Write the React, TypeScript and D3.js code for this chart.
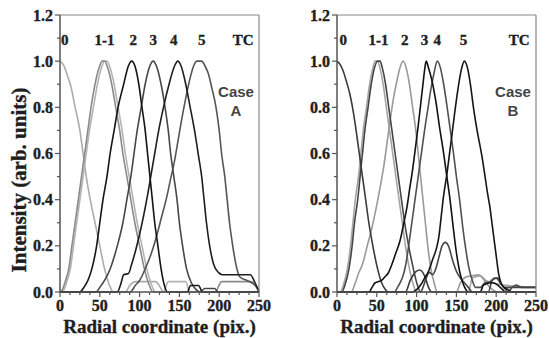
import React from "react";
import * as d3 from "d3";

type P = [number, number];

const xTicks = [0, 50, 100, 150, 200, 250];
const yTicks = [0, 0.2, 0.4, 0.6, 0.8, 1.0, 1.2];
const peakLabels = ["0", "1-1", "2", "3", "4", "5", "TC"];
const peakPosA = [6, 56, 92, 117, 143, 178, 230];
const peakPosB = [8, 52, 85, 110, 126, 159, 229];

// Case A
const a0: P[] = [[0,1],[5,0.98],[10,0.93],[13,0.9],[19,0.8],[25,0.7],[29,0.6],[33,0.5],[38,0.4],[44,0.3],[50,0.2],[56,0.1],[62,0.03],[67,0],[82,0],[88,0.03],[95,0.045],[120,0.045],[126,0.02],[130,0],[250,0]];
const a1a: P[] = [[0,0],[3,0.01],[7,0.05],[11,0.1],[15,0.2],[19,0.3],[23,0.4],[27,0.5],[31,0.6],[35,0.7],[39,0.8],[44,0.9],[49,0.97],[53,1.0],[56,1.0],[60,0.97],[65,0.9],[70,0.8],[75,0.7],[79,0.6],[84,0.5],[89,0.4],[94,0.3],[100,0.2],[106,0.1],[111,0.04],[117,0],[195,0],[203,0.045],[240,0.045],[250,0]];
const a1b: P[] = [[0,0],[5,0.01],[9,0.05],[13,0.1],[17,0.2],[21,0.3],[25,0.4],[29,0.5],[33,0.6],[37,0.7],[42,0.8],[47,0.9],[52,0.97],[56,1.0],[59,1.0],[63,0.97],[68,0.9],[73,0.8],[78,0.7],[82,0.6],[87,0.5],[92,0.4],[97,0.3],[103,0.2],[109,0.1],[114,0.04],[120,0],[130,0],[136,0.045],[158,0.045],[163,0],[250,0]];
const a2: P[] = [[0,0],[25,0],[30,0.02],[35,0.05],[40,0.1],[46,0.2],[50,0.3],[54,0.4],[59,0.5],[63,0.6],[68,0.7],[73,0.8],[80,0.9],[86,0.98],[90,1.0],[94,0.98],[99,0.9],[103,0.8],[107,0.7],[110,0.6],[113,0.5],[116,0.4],[119,0.3],[123,0.2],[127,0.1],[131,0.03],[135,0],[160,0],[164,0.028],[174,0.028],[179,0],[250,0]];
const a3: P[] = [[0,0],[45,0],[50,0.02],[56,0.05],[63,0.1],[72,0.2],[79,0.3],[84,0.4],[89,0.5],[93,0.6],[97,0.7],[102,0.8],[107,0.9],[113,0.98],[117,1.0],[121,0.98],[127,0.9],[132,0.8],[136,0.7],[139,0.6],[143,0.5],[147,0.4],[150,0.3],[154,0.2],[159,0.1],[165,0.04],[171,0.01],[176,0],[182,0.015],[194,0.015],[199,0],[250,0]];
const a4: P[] = [[0,0],[72,0],[76,0.03],[80,0.075],[86,0.08],[90,0.12],[95,0.18],[100,0.25],[105,0.33],[110,0.42],[114,0.5],[119,0.6],[124,0.7],[130,0.8],[137,0.9],[144,0.98],[148,1.0],[152,0.98],[158,0.9],[163,0.81],[169,0.7],[174,0.59],[178,0.5],[181,0.4],[184,0.3],[188,0.2],[193,0.12],[199,0.085],[204,0.075],[239,0.075],[245,0.04],[250,0.0]];
const a5: P[] = [[0,0],[88,0],[95,0.03],[100,0.05],[107,0.1],[115,0.17],[122,0.25],[128,0.33],[134,0.41],[139,0.49],[144,0.57],[149,0.67],[153,0.75],[158,0.84],[163,0.92],[168,0.98],[172,1.0],[178,1.0],[182,0.98],[186,0.95],[191,0.88],[196,0.8],[200,0.7],[203,0.6],[207,0.5],[210,0.4],[213,0.3],[217,0.2],[221,0.12],[226,0.065],[235,0.05],[245,0.03],[250,0.01]];

// Case B
const b0: P[] = [[0,1],[4,0.985],[8,0.955],[12,0.91],[16,0.86],[20,0.79],[24,0.7],[28,0.6],[32,0.5],[36,0.4],[40,0.3],[45,0.2],[51,0.1],[56,0.04],[61,0.01],[64,0],[86,0],[92,0.05],[98,0.085],[104,0.095],[110,0.07],[115,0.02],[119,0],[250,0]];
const b1a: P[] = [[0,0],[4,0],[8,0.03],[13,0.1],[17,0.2],[20,0.3],[23,0.4],[27,0.5],[30,0.6],[33,0.7],[37,0.8],[41,0.9],[45,0.97],[48,1.0],[51,1.0],[54,0.97],[58,0.9],[62,0.8],[66,0.7],[70,0.6],[74,0.5],[78,0.4],[82,0.3],[86,0.2],[91,0.1],[96,0.03],[100,0],[165,0],[170,0.06],[180,0.07],[187,0.05],[195,0.04],[210,0.03],[250,0.02]];
const b1b: P[] = [[0,0],[6,0],[10,0.03],[15,0.1],[19,0.2],[22,0.3],[26,0.4],[29,0.5],[32,0.6],[35,0.7],[39,0.8],[43,0.9],[47,0.97],[51,1.0],[54,1.0],[57,0.97],[61,0.9],[65,0.8],[69,0.7],[73,0.6],[77,0.5],[81,0.4],[85,0.3],[90,0.2],[96,0.1],[101,0.03],[105,0],[108,0.02],[112,0.06],[116,0.085],[120,0.075],[124,0.1],[128,0.15],[132,0.2],[136,0.215],[140,0.2],[145,0.14],[150,0.09],[155,0.06],[160,0.04],[165,0.02],[170,0],[190,0],[195,0.05],[200,0.06],[205,0.04],[210,0.02],[250,0.02]];
const b2: P[] = [[0,0],[18,0],[22,0.03],[27,0.08],[32,0.12],[38,0.2],[44,0.28],[49,0.36],[54,0.45],[59,0.55],[63,0.65],[67,0.75],[71,0.84],[75,0.91],[79,0.97],[83,1.0],[87,0.97],[91,0.9],[95,0.8],[99,0.7],[102,0.6],[105,0.5],[108,0.4],[111,0.3],[114,0.2],[118,0.1],[122,0.04],[126,0],[150,0],[155,0.04],[162,0.065],[170,0.07],[178,0.075],[185,0.05],[192,0.02],[200,0]];
const b3: P[] = [[0,0],[40,0],[44,0.02],[48,0.04],[52,0.045],[56,0.05],[60,0.065],[64,0.08],[69,0.12],[74,0.17],[79,0.22],[84,0.3],[88,0.37],[91,0.44],[95,0.53],[98,0.61],[102,0.72],[105,0.81],[108,0.9],[110,0.96],[112,1.0],[115,0.97],[119,0.92],[124,0.83],[129,0.71],[134,0.6],[138,0.5],[142,0.4],[146,0.28],[150,0.17],[154,0.09],[158,0.04],[162,0.01],[165,0],[180,0],[184,0.03],[195,0.04],[202,0.03],[208,0.01],[212,0],[250,0]];
const b4: P[] = [[0,0],[72,0],[76,0.02],[80,0.045],[83,0.07],[87,0.13],[90,0.2],[94,0.3],[98,0.4],[102,0.5],[106,0.6],[110,0.7],[114,0.79],[118,0.88],[122,0.95],[126,1.0],[130,0.97],[134,0.9],[138,0.81],[142,0.71],[146,0.61],[150,0.5],[154,0.4],[158,0.28],[162,0.18],[166,0.1],[170,0.05],[174,0.02],[180,0.02],[186,0.04],[192,0.045],[198,0.06],[202,0.06],[207,0.03],[212,0.01],[215,0],[220,0.02],[225,0.03],[232,0.02],[250,0.02]];
const b5: P[] = [[0,0],[95,0],[100,0.01],[105,0.03],[110,0.06],[115,0.09],[120,0.14],[125,0.19],[128,0.24],[131,0.33],[134,0.42],[138,0.51],[141,0.59],[144,0.67],[148,0.78],[152,0.88],[156,0.96],[160,1.0],[164,0.97],[168,0.89],[171,0.81],[176,0.7],[182,0.59],[186,0.5],[189,0.43],[192,0.37],[195,0.29],[198,0.21],[201,0.13],[203,0.08],[206,0.04],[210,0.02],[215,0.01],[220,0],[250,0]];

const seriesA = [
  { d: a0, c: "#acacac" },
  { d: a1b, c: "#b4b4b4" },
  { d: a1a, c: "#8a8a8a" },
  { d: a5, c: "#555555" },
  { d: a3, c: "#474747" },
  { d: a4, c: "#1e1e1e" },
  { d: a2, c: "#151515" },
];
const seriesB = [
  { d: b1a, c: "#a5a5a5" },
  { d: b2, c: "#9a9a9a" },
  { d: b4, c: "#505050" },
  { d: b1b, c: "#454545" },
  { d: b0, c: "#3a3a3a" },
  { d: b3, c: "#111111" },
  { d: b5, c: "#151515" },
];

const serif = "'Liberation Serif', 'Times New Roman', serif";
const sans = "'Liberation Sans', Arial, sans-serif";
const txt = "#1e1e1e";

function Panel({ x0, series, peaks, caseLetter, showYLabel }: any) {
  const x = d3.scaleLinear().domain([0, 250]).range([x0, x0 + 199]);
  const y = d3.scaleLinear().domain([0, 1.2]).range([292, 15]);
  const line = d3
    .line<P>()
    .x((p) => x(p[0]))
    .y((p) => y(p[1]))
    .curve(d3.curveMonotoneX);
  const yMinor = d3.range(0, 1.2001, 0.1);
  const xMinor = d3.range(0, 250.01, 12.5);
  const axisC = "#555";
  const heavy = { stroke: txt, strokeWidth: 0.35 };
  return (
    <g>
      {series.map((s: any, i: number) => (
        <path key={i} d={line(s.d) || ""} fill="none" stroke={s.c} strokeWidth={1.6} strokeLinejoin="round" />
      ))}
      <line x1={x(0)} x2={x(250)} y1={y(1.2)} y2={y(1.2)} stroke="#888" strokeWidth={1.2} />
      <line x1={x(250)} x2={x(250)} y1={y(1.2)} y2={y(0)} stroke="#888" strokeWidth={1.2} />
      <line x1={x(0)} x2={x(0)} y1={y(1.2)} y2={y(0)} stroke={axisC} strokeWidth={1.5} />
      <line x1={x(0)} x2={x(250)} y1={y(0)} y2={y(0)} stroke={axisC} strokeWidth={1.5} />
      {yMinor.map((v, i) => (
        <line key={"ym" + i} x1={x(0)} x2={x(0) - (i % 2 === 0 ? 5 : 3)} y1={y(v)} y2={y(v)} stroke={axisC} strokeWidth={1.2} />
      ))}
      {xMinor.map((v, i) => (
        <line key={"xm" + i} x1={x(v)} x2={x(v)} y1={y(0)} y2={y(0) + (i % 4 === 0 ? 5 : 3)} stroke={axisC} strokeWidth={1.2} />
      ))}
      {yTicks.map((v) => (
        <text key={"yt" + v} x={x(0) - 7} y={y(v) + 5.5} textAnchor="end" fontFamily={serif} fontWeight="bold" fontSize={16} fill={txt} {...heavy}>
          {d3.format(".1f")(v)}
        </text>
      ))}
      {xTicks.map((v) => (
        <text key={"xt" + v} x={x(v)} y={311} textAnchor="middle" fontFamily={serif} fontWeight="bold" fontSize={16} fill={txt} {...heavy}>
          {v}
        </text>
      ))}
      {peakLabels.map((t, i) => (
        <text key={"pk" + i} x={x(peaks[i])} y={45} textAnchor="middle" fontFamily={serif} fontWeight="bold" fontSize={15} fill={txt} {...heavy}>
          {t}
        </text>
      ))}
      <text x={x(0) + 176} y={97} textAnchor="middle" fontFamily={sans} fontWeight="bold" fontSize={15} fill="#444">Case</text>
      <text x={x(0) + 176} y={116} textAnchor="middle" fontFamily={sans} fontWeight="bold" fontSize={15} fill="#444">{caseLetter}</text>
      <text x={x(125)} y={333} textAnchor="middle" fontFamily={serif} fontWeight="bold" fontSize={19} fill={txt} {...heavy}>
        Radial coordinate (pix.)
      </text>
      {showYLabel && (
        <text transform={`translate(26,180) rotate(-90)`} textAnchor="middle" fontFamily={serif} fontWeight="bold" fontSize={21} fill={txt} {...heavy}>
          Intensity (arb. units)
        </text>
      )}
    </g>
  );
}

export default function App() {
  return (
    <div style={{ position: "absolute", left: 0, top: 0 }}>
      <svg width={549} height={338} style={{ display: "block", background: "#fff" }}>
        <Panel x0={60} series={seriesA} peaks={peakPosA} caseLetter="A" showYLabel />
        <Panel x0={337} series={seriesB} peaks={peakPosB} caseLetter="B" showYLabel={false} />
      </svg>
    </div>
  );
}
